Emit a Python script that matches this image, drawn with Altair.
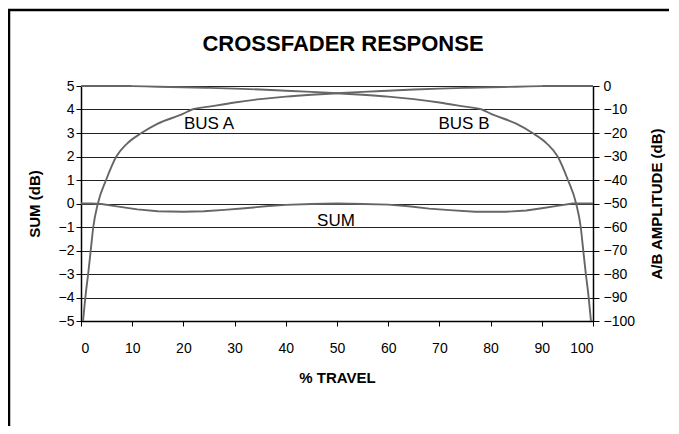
import altair as alt
import pandas as pd

# ---- data ----
travel_a = [0.4, 1.0, 1.4, 1.9, 2.4, 3.3, 4.9, 6.9, 9, 11.8, 15, 20, 21.7, 25, 30, 35, 40,
            45, 50, 55, 60, 65, 70, 75, 80, 85, 90, 91, 100]
bus_a_db = [-100, -87, -80, -70, -60, -50, -40, -30, -24.5, -20, -16, -11.8, -10, -8.8, -7,
            -5.6, -4.5, -3.7, -3.1, -2.5, -2.0, -1.5, -1.1, -0.8, -0.55, -0.3, -0.05, 0, 0]

travel_b = [0, 9, 10, 15, 20, 25, 30, 35, 40, 45, 50, 55, 60, 65, 70, 75, 78.3, 80, 85,
            88.2, 91, 93.1, 95.1, 96.7, 97.6, 98.1, 98.6, 99.0, 99.6]
bus_b_db = [0, 0, -0.05, -0.3, -0.55, -0.8, -1.1, -1.5, -2.0, -2.5, -3.1, -3.7, -4.5, -5.6,
            -7, -8.8, -10, -11.8, -16, -20, -24.5, -30, -40, -50, -60, -70, -80, -87, -100]

travel_sum = [0, 2, 4, 7, 11, 15, 20, 24, 28, 32, 36, 40, 45, 50, 55, 60, 64, 68, 72, 77,
              83, 87, 90, 93, 96, 100]
sum_db = [0, 0, -0.02, -0.12, -0.25, -0.33, -0.35, -0.33, -0.27, -0.2, -0.12, -0.06, -0.02,
          0, -0.02, -0.05, -0.12, -0.22, -0.28, -0.35, -0.35, -0.3, -0.2, -0.1, 0, 0]

label_text = ["BUS A", "BUS B", "SUM"]
label_x = [25, 74.8, 49.8]
label_y = [3.38, 3.38, -0.73]

chart_title = "CROSSFADER RESPONSE"

x_ticks = list(range(0, 101, 10))
left_ticks = list(range(-5, 6))
right_ticks = list(range(-100, 1, 10))

bus_df = pd.DataFrame({
    "travel": travel_a + travel_b,
    "db": bus_a_db + bus_b_db,
    "bus": ["A"] * len(travel_a) + ["B"] * len(travel_b),
})
sum_df = pd.DataFrame({"travel": travel_sum, "db": sum_db})
lab_df = pd.DataFrame({"t": label_text, "x": label_x, "y": label_y})
title_df = pd.DataFrame({"t": [chart_title]})

W, H = 512, 235
FONT = "Liberation Sans"
CURVE = "#666666"

xenc = alt.X(
    "travel:Q",
    scale=alt.Scale(domain=[0, 100], nice=False, zero=False),
    axis=alt.Axis(
        values=x_ticks, grid=False, title="% TRAVEL", titleFontSize=15,
        titleFontWeight="bold", titleX=W / 2, titleY=61, titleBaseline="alphabetic",
        labelFontSize=14, labelPadding=15, tickSize=5, domainColor="black",
        tickColor="black", labelColor="black", titleColor="black", domainWidth=1.5,
    ),
)

sum_layer = alt.Chart(sum_df).mark_line(color=CURVE, strokeWidth=1.9).encode(
    x=xenc,
    y=alt.Y(
        "db:Q",
        scale=alt.Scale(domain=[-5, 5], nice=False, zero=False),
        axis=alt.Axis(
            orient="left", values=left_ticks, grid=True, gridColor="#222222", gridWidth=1,
            title="SUM (dB)", titleFontSize=15, titleFontWeight="bold", titleAngle=270,
            titleX=-47, titleY=H / 2, titleAlign="center", titleBaseline="middle",
            labelFontSize=14, labelPadding=2, tickSize=5, domainColor="black",
            tickColor="black", labelColor="black", titleColor="black", domainWidth=1.5,
        ),
    ),
)

bus_layer = alt.Chart(bus_df).mark_line(color=CURVE, strokeWidth=1.9,
                                        interpolate="monotone").encode(
    x=alt.X("travel:Q", scale=alt.Scale(domain=[0, 100], nice=False, zero=False)),
    y=alt.Y(
        "db:Q",
        scale=alt.Scale(domain=[-100, 0], nice=False, zero=False),
        axis=alt.Axis(
            orient="right", values=right_ticks, grid=False,
            title="A/B AMPLITUDE (dB)", titleFontSize=15, titleFontWeight="bold",
            titleAngle=270, titleX=63, titleY=H / 2, titleAlign="center",
            titleBaseline="middle", labelFontSize=14, labelPadding=4, tickSize=6,
            domainColor="black", tickColor="black", labelColor="black",
            titleColor="black", domainWidth=1.5,
        ),
    ),
    detail="bus:N",
)

label_layer = alt.Chart(lab_df).mark_text(fontSize=17, font=FONT, color="black").encode(
    x=alt.X("x:Q", scale=alt.Scale(domain=[0, 100], nice=False, zero=False)),
    y=alt.Y("y:Q", scale=alt.Scale(domain=[-5, 5], nice=False, zero=False), axis=None),
    text="t:N",
)

title_layer = alt.Chart(title_df).mark_text(
    fontSize=22, fontWeight="bold", font=FONT, color="black",
    align="center", baseline="alphabetic",
).encode(x=alt.value(W / 2 + 6), y=alt.value(-35), text="t:N")

frame_left = alt.Chart(title_df).mark_rule(color="black", strokeWidth=2.5).encode(
    x=alt.value(-72), x2=alt.value(-72), y=alt.value(-77), y2=alt.value(H + 110)
)
frame_top = alt.Chart(title_df).mark_rule(color="black", strokeWidth=2.5).encode(
    x=alt.value(-73), x2=alt.value(W + 76), y=alt.value(-76), y2=alt.value(-76)
)

chart = alt.layer(
    sum_layer, bus_layer, label_layer, title_layer, frame_left, frame_top
).resolve_scale(
    y="independent"
).properties(
    width=W, height=H,
    autosize=alt.AutoSizeParams(type="none"),
    padding={"left": 73, "top": 78, "right": 78, "bottom": 105},
).configure(
    font=FONT,
).configure_view(
    stroke=None
).configure_axis(
    labelFont=FONT, titleFont=FONT
)

chart.save("out.html", embed_options={"renderer": "svg", "actions": False})
